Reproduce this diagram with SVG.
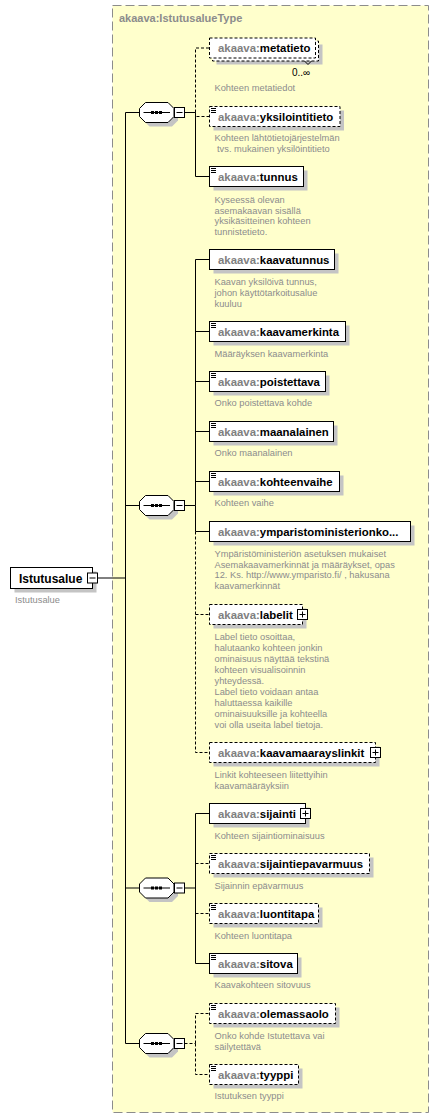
<svg xmlns="http://www.w3.org/2000/svg" width="439" height="1119" viewBox="0 0 439 1119">
<style>
.bg{fill:#ffffcc;stroke:#8c8c8c;stroke-width:1;stroke-dasharray:9,4}
.sh{fill:#c4c4c4}
.box{fill:#fff;stroke:#000;stroke-width:1}
.opt{stroke-dasharray:3,2}
.doc{stroke:#000;stroke-width:1;fill:none}
.nm{font-family:"Liberation Sans",Arial,sans-serif;font-size:11.4px;font-weight:bold;fill:#000}
.px{fill:#808080}
.ds{font-family:"Liberation Sans",Arial,sans-serif;font-size:9.3px;fill:#8c8c8c}
.ttl{font-family:"Liberation Sans",Arial,sans-serif;font-size:11px;font-weight:bold;fill:#8c8c8c}
.card{font-family:"Liberation Sans","DejaVu Sans",sans-serif;font-size:10px;fill:#000}
.ln{stroke:#000;stroke-width:1;fill:none}
.dl{stroke:#000;stroke-width:1;fill:none;stroke-dasharray:3,2}
.btn{fill:#fff;stroke:#000;stroke-width:1}
</style>
<defs>
<g id="seq">
<polygon class="sh" points="149.5,106.5 172,106.5 178,112.5 178,120.5 172,126.5 149.5,126.5 143.5,120.5 143.5,112.5"/>
<polygon class="box" points="145.5,102.5 168,102.5 174,108.5 174,116.5 168,122.5 145.5,122.5 139.5,116.5 139.5,108.5"/>
<path class="ln" d="M143.5 112.5H170"/>
<rect x="151" y="111" width="3" height="3" fill="#000"/>
<rect x="155" y="111" width="3" height="3" fill="#000"/>
<rect x="159" y="111" width="3" height="3" fill="#000"/>
<rect class="btn" x="174.5" y="107.5" width="10" height="10"/>
<path class="ln" d="M176.5 112.5H182.5"/>
</g>
</defs>

<rect class="bg" x="112.5" y="5.5" width="316" height="1107"/>
<text class="ttl" x="119" y="22">akaava:IstutusalueType</text>

<g id="connectors">
<path class="ln" d="M97.5 578H125.5M125.5 112.5V1043.5M125.5 112.5H139.5M125.5 505.5H139.5M125.5 888H139.5M125.5 1043.5H139.5"/>
<path class="ln" d="M184.5 112.5H195.5M184.5 505.5H195.5M184.5 888H195.5"/>
<path class="dl" d="M184.5 1043.5H195.5"/>
<path class="dl" d="M195.5 112.5V48H209.5M195.5 112.5V116.5H209.5"/>
<path class="ln" d="M195.5 112.5V176.5H209.5"/>
<path class="ln" d="M195.5 505.5V259.5H209.5M195.5 331.5H209.5M195.5 381.5H209.5M195.5 431.5H209.5M195.5 481.5H209.5M195.5 505.5V531.5H209.5"/>
<path class="dl" d="M195.5 531.5V752.5H209.5M195.5 614.5H209.5"/>
<path class="ln" d="M195.5 888V813.5H209.5M195.5 888V963.5H209.5"/>
<path class="dl" d="M195.5 863.5H209.5M195.5 913.5H209.5"/>
<path class="dl" d="M195.5 1043.5V1013.5H209.5M195.5 1043.5V1074.5H209.5"/>
</g>

<g id="root">
<rect class="sh" x="14.5" y="571.5" width="82" height="21"/>
<rect class="box" x="10.5" y="567.5" width="82" height="21"/>
<text x="19" y="582.5" font-family="Liberation Sans, Arial, sans-serif" font-size="12" font-weight="bold" fill="#000">Istutusalue</text>
<rect class="btn" x="87.5" y="573" width="10" height="10"/>
<path class="ln" d="M89.5 578H95.5"/>
<text class="ds" x="15" y="603">Istutusalue</text>
</g>

<g id="seq1"><use href="#seq"/></g>
<g id="seq2"><use href="#seq" transform="translate(0,393)"/></g>
<g id="seq3"><use href="#seq" transform="translate(0,775.5)"/></g>
<g id="seq4"><use href="#seq" transform="translate(0,931)"/></g>

<g id="metatieto">
<rect class="sh" x="216.5" y="44.5" width="106" height="20"/>
<rect class="box opt" x="212.5" y="41" width="106" height="20"/>
<rect class="box opt" x="209.5" y="38" width="106" height="20"/>
<text class="nm" x="218" y="52"><tspan class="px">akaava:</tspan>metatieto</text>
<path class="ln" d="M304.5 61L308 64.5L311.5 61"/>
<text class="card" x="292" y="75.5">0..∞</text>
<text class="ds" x="214.5" y="91">Kohteen metatiedot</text>
</g>

<g id="yksilointitieto">
<rect class="sh" x="213.5" y="110.5" width="130.5" height="20"/>
<rect class="box opt" x="209.5" y="106.5" width="130.5" height="20"/>
<path class="doc" d="M211 108.5h5M211 110.5h5M211 112.5h5"/>
<text class="nm" x="218" y="120.5"><tspan class="px">akaava:</tspan>yksilointitieto</text>
<text class="ds" x="214.5" y="140.5">Kohteen lähtötietojärjestelmän</text>
<text class="ds" x="217" y="151.5">tvs. mukainen yksilöintitieto</text>
</g>

<g id="tunnus">
<rect class="sh" x="213.5" y="170.5" width="94" height="20"/>
<rect class="box" x="209.5" y="166.5" width="94" height="20"/>
<path class="doc" d="M211 168.5h5M211 170.5h5M211 172.5h5"/>
<text class="nm" x="218" y="180.5"><tspan class="px">akaava:</tspan>tunnus</text>
<text class="ds" x="214.5" y="203">Kyseessä olevan</text>
<text class="ds" x="214.5" y="213.6">asemakaavan sisällä</text>
<text class="ds" x="214.5" y="224.2">yksikäsitteinen kohteen</text>
<text class="ds" x="214.5" y="234.8">tunnistetieto.</text>
</g>

<g id="kaavatunnus">
<rect class="sh" x="213.5" y="253.5" width="125" height="20"/>
<rect class="box" x="209.5" y="249.5" width="125" height="20"/>
<text class="nm" x="218" y="263.5"><tspan class="px">akaava:</tspan>kaavatunnus</text>
<text class="ds" x="214.5" y="285.3">Kaavan yksilöivä tunnus,</text>
<text class="ds" x="214.5" y="296">johon käyttötarkoitusalue</text>
<text class="ds" x="214.5" y="306.6">kuuluu</text>
</g>

<g id="kaavamerkinta">
<rect class="sh" x="213.5" y="325.5" width="136" height="20"/>
<rect class="box" x="209.5" y="321.5" width="136" height="20"/>
<path class="doc" d="M211 323.5h5M211 325.5h5M211 327.5h5"/>
<text class="nm" x="218" y="335.5"><tspan class="px">akaava:</tspan>kaavamerkinta</text>
<text class="ds" x="214.5" y="357">Määräyksen kaavamerkinta</text>
</g>

<g id="poistettava">
<rect class="sh" x="213.5" y="375.5" width="116" height="20"/>
<rect class="box" x="209.5" y="371.5" width="116" height="20"/>
<path class="doc" d="M211 373.5h5M211 375.5h5M211 377.5h5"/>
<text class="nm" x="218" y="385.5"><tspan class="px">akaava:</tspan>poistettava</text>
<text class="ds" x="214.5" y="406.3">Onko poistettava kohde</text>
</g>

<g id="maanalainen">
<rect class="sh" x="213.5" y="425.5" width="124" height="20"/>
<rect class="box" x="209.5" y="421.5" width="124" height="20"/>
<path class="doc" d="M211 423.5h5M211 425.5h5M211 427.5h5"/>
<text class="nm" x="218" y="435.5"><tspan class="px">akaava:</tspan>maanalainen</text>
<text class="ds" x="214.5" y="456.3">Onko maanalainen</text>
</g>

<g id="kohteenvaihe">
<rect class="sh" x="213.5" y="475.5" width="130" height="20"/>
<rect class="box" x="209.5" y="471.5" width="130" height="20"/>
<path class="doc" d="M211 473.5h5M211 475.5h5M211 477.5h5"/>
<text class="nm" x="218" y="485.5"><tspan class="px">akaava:</tspan>kohteenvaihe</text>
<text class="ds" x="214.5" y="506.3">Kohteen vaihe</text>
</g>

<g id="ymparistoministerionkohde">
<rect class="sh" x="213.5" y="525.5" width="201" height="20"/>
<rect class="box" x="209.5" y="521.5" width="201" height="20"/>
<text class="nm" x="218" y="535.5"><tspan class="px">akaava:</tspan>ymparistoministerionko...</text>
<text class="ds" x="214.5" y="557">Ympäristöministeriön asetuksen mukaiset</text>
<text class="ds" x="214.5" y="567.7">Asemakaavamerkinnät ja määräykset, opas</text>
<text class="ds" x="214.5" y="578.4">12. Ks. http://www.ymparisto.fi/ , hakusana</text>
<text class="ds" x="214.5" y="589.1">kaavamerkinnät</text>
</g>

<g id="labelit">
<rect class="sh" x="213.5" y="608.5" width="93" height="20"/>
<rect class="box opt" x="209.5" y="604.5" width="93" height="20"/>
<text class="nm" x="218" y="618.5"><tspan class="px">akaava:</tspan>labelit</text>
<rect class="btn" x="297.5" y="609.5" width="10" height="10"/>
<path class="ln" d="M299.5 614.5H305.5M302.5 611.5V617.5"/>
<text class="ds" x="214.5" y="639.7">Label tieto osoittaa,</text>
<text class="ds" x="214.5" y="650.7">halutaanko kohteen jonkin</text>
<text class="ds" x="214.5" y="661.8">ominaisuus näyttää tekstinä</text>
<text class="ds" x="214.5" y="672.8">kohteen visualisoinnin</text>
<text class="ds" x="214.5" y="683.8">yhteydessä.</text>
<text class="ds" x="214.5" y="694.9">Label tieto voidaan antaa</text>
<text class="ds" x="214.5" y="705.9">haluttaessa kaikille</text>
<text class="ds" x="214.5" y="717">ominaisuuksille ja kohteella</text>
<text class="ds" x="214.5" y="728">voi olla useita label tietoja.</text>
</g>

<g id="kaavamaarayslinkit">
<rect class="sh" x="213.5" y="746.5" width="166" height="20"/>
<rect class="box opt" x="209.5" y="742.5" width="166" height="20"/>
<text class="nm" x="218" y="756.5"><tspan class="px">akaava:</tspan>kaavamaarayslinkit</text>
<rect class="btn" x="370.5" y="747.5" width="10" height="10"/>
<path class="ln" d="M372.5 752.5H378.5M375.5 749.5V755.5"/>
<text class="ds" x="214.5" y="778">Linkit kohteeseen liitettyihin</text>
<text class="ds" x="214.5" y="788.7">kaavamääräyksiin</text>
</g>

<g id="sijainti">
<rect class="sh" x="213.5" y="807.5" width="96" height="20"/>
<rect class="box" x="209.5" y="803.5" width="96" height="20"/>
<text class="nm" x="218" y="817.5"><tspan class="px">akaava:</tspan>sijainti</text>
<rect class="btn" x="300.5" y="808.5" width="10" height="10"/>
<path class="ln" d="M302.5 813.5H308.5M305.5 810.5V816.5"/>
<text class="ds" x="214.5" y="838.7">Kohteen sijaintiominaisuus</text>
</g>

<g id="sijaintiepavarmuus">
<rect class="sh" x="213.5" y="857.5" width="160" height="20"/>
<rect class="box opt" x="209.5" y="853.5" width="160" height="20"/>
<path class="doc" d="M211 855.5h5M211 857.5h5M211 859.5h5"/>
<text class="nm" x="218" y="867.5"><tspan class="px">akaava:</tspan>sijaintiepavarmuus</text>
<text class="ds" x="214.5" y="889">Sijainnin epävarmuus</text>
</g>

<g id="luontitapa">
<rect class="sh" x="213.5" y="907.5" width="109" height="20"/>
<rect class="box opt" x="209.5" y="903.5" width="109" height="20"/>
<path class="doc" d="M211 905.5h5M211 907.5h5M211 909.5h5"/>
<text class="nm" x="218" y="917.5"><tspan class="px">akaava:</tspan>luontitapa</text>
<text class="ds" x="214.5" y="938.7">Kohteen luontitapa</text>
</g>

<g id="sitova">
<rect class="sh" x="213.5" y="957.5" width="88" height="20"/>
<rect class="box" x="209.5" y="953.5" width="88" height="20"/>
<path class="doc" d="M211 955.5h5M211 957.5h5M211 959.5h5"/>
<text class="nm" x="218" y="967.5"><tspan class="px">akaava:</tspan>sitova</text>
<text class="ds" x="214.5" y="988">Kaavakohteen sitovuus</text>
</g>

<g id="olemassaolo">
<rect class="sh" x="213.5" y="1007.5" width="126" height="20"/>
<rect class="box opt" x="209.5" y="1003.5" width="126" height="20"/>
<path class="doc" d="M211 1005.5h5M211 1007.5h5M211 1009.5h5"/>
<text class="nm" x="218" y="1017.5"><tspan class="px">akaava:</tspan>olemassaolo</text>
<text class="ds" x="214.5" y="1039">Onko kohde Istutettava vai</text>
<text class="ds" x="214.5" y="1049.7">säilytettävä</text>
</g>

<g id="tyyppi">
<rect class="sh" x="213.5" y="1068.5" width="89" height="20"/>
<rect class="box opt" x="209.5" y="1064.5" width="89" height="20"/>
<path class="doc" d="M211 1066.5h5M211 1068.5h5M211 1070.5h5"/>
<text class="nm" x="218" y="1078.5"><tspan class="px">akaava:</tspan>tyyppi</text>
<text class="ds" x="214.5" y="1098.7">Istutuksen tyyppi</text>
</g>
</svg>
